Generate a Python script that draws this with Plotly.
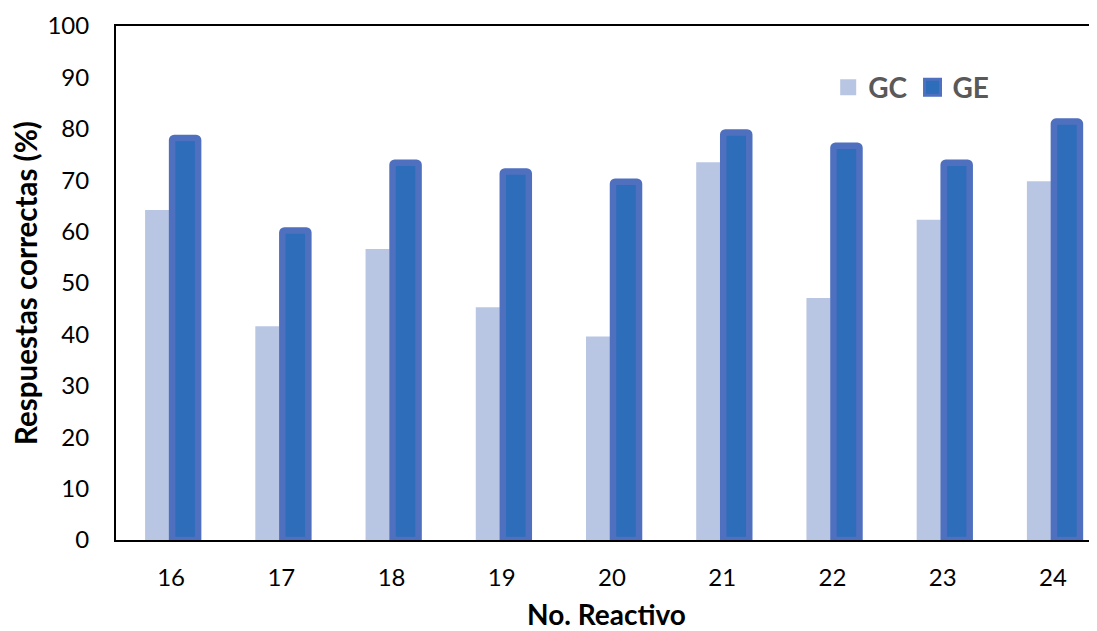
import plotly.graph_objects as go

categories = ["16", "17", "18", "19", "20", "21", "22", "23", "24"]
gc_values = [64.2, 41.6, 56.6, 45.3, 39.6, 73.5, 47.1, 62.3, 69.8]
ge_values = [78.2, 60.2, 73.4, 71.7, 69.7, 79.3, 76.7, 73.4, 81.4]
y_ticks = [0, 10, 20, 30, 40, 50, 60, 70, 80, 90, 100]

FONT = "Lato"
GC_FILL = "#b8c6e3"
GE_FILL = "#2e6dba"
GE_LINE = "#4f70bf"

fig = go.Figure()
fig.add_trace(go.Bar(
    x=categories, y=gc_values, name="GC", showlegend=False,
    marker=dict(color=GC_FILL, line=dict(width=0)),
    offset=-0.236, width=0.218,
))
fig.add_trace(go.Bar(
    x=categories, y=ge_values, name="GE", showlegend=False,
    marker=dict(color=GE_FILL, line=dict(color=GE_LINE, width=6.5), cornerradius=2),
    offset=0.009, width=0.236,
))
# legend entries
fig.add_trace(go.Scatter(
    x=[None], y=[None], mode="markers", name="GC",
    marker=dict(symbol="square", size=16, color=GC_FILL, line=dict(width=0)),
))
fig.add_trace(go.Scatter(
    x=[None], y=[None], mode="markers", name="GE",
    marker=dict(symbol="square", size=16, color=GE_FILL, line=dict(color=GE_LINE, width=3)),
))

fig.update_layout(
    width=1089, height=623,
    margin=dict(l=108, r=0, t=18, b=91),
    paper_bgcolor="white", plot_bgcolor="white",
    barmode="overlay",
    showlegend=True,
    legend=dict(
        orientation="h", x=0.726, y=0.929, xanchor="left", yanchor="top",
        font=dict(family=FONT, size=28, color="#595959", weight="bold"),
        bgcolor="rgba(0,0,0,0)", itemsizing="trace",
        traceorder="normal",
    ),
    font=dict(family=FONT, color="black"),
)

fig.update_xaxes(
    type="category", range=[-0.5, 8.4],
    showline=True, linecolor="black", linewidth=2, mirror=True,
    showgrid=False, ticks="", ticklabelstandoff=15,
    tickfont=dict(family=FONT, size=24, color="black"),
    title=dict(text="No. Reactivo", standoff=19,
               font=dict(family=FONT, size=28, color="black", weight="bold")),
)
fig.update_yaxes(
    range=[0, 100], tickvals=y_ticks,
    showline=True, linecolor="black", linewidth=2, mirror=False,
    showgrid=False, zeroline=False, ticks="", ticklabelstandoff=20,
    tickfont=dict(family=FONT, size=24, color="black"),
    title=dict(text="Respuestas correctas (%)", standoff=18,
               font=dict(family=FONT, size=29.5, color="black", weight="bold")),
)

fig.write_html("out.html")
